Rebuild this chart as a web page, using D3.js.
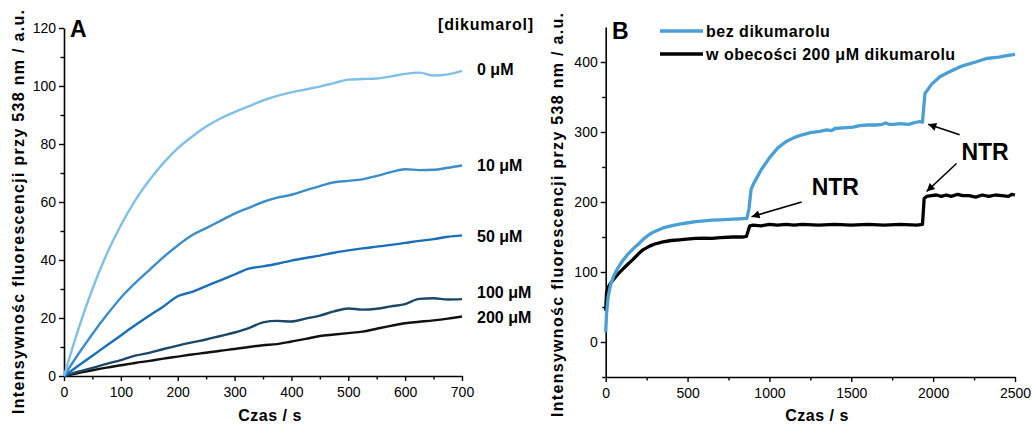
<!DOCTYPE html>
<html><head><meta charset="utf-8">
<script src="https://cdn.jsdelivr.net/npm/d3@7"></script>
<style>
html,body{margin:0;padding:0;background:#fff;}
svg{display:block;font-family:"Liberation Sans",Arial,sans-serif;}
</style></head>
<body><svg id="c" width="1032" height="426"></svg>
<script>
// ---------- Panel A data ----------
const timeA = [0,25,50,75,100,125,150,175,200,225,250,275,300,325,350,375,400,425,450,475,500,525,550,575,600,625,650,675,700];
const dik0   = [0,16,30,42,52,60.5,67.5,73.5,78.5,82.5,86,88.8,91,93,95,96.6,97.8,98.8,99.8,101,102.2,102.4,102.6,103.3,104.2,104.6,103.6,104,105.2];
const dik10  = [0,7.5,14.5,21,27,32,36.5,41,45,48.5,51,53.5,56,58,60,61.5,62.5,64,65.5,66.8,67.3,67.8,69,70.3,71.3,71,71.1,71.8,72.6];
const dik50  = [0,3.5,7,10.5,14,17.5,20.8,24,27.5,29,31,33,35,37,37.8,38.7,39.8,40.7,41.5,42.5,43.3,44,44.6,45.2,45.9,46.6,47.2,48,48.5];
const dik100 = [0,1.5,2.8,4.2,5.5,7,8,9.3,10.5,11.6,12.6,13.8,15,16.5,18.5,19,18.8,19.8,20.8,22.3,23.3,22.9,23.2,24,24.8,26.6,26.8,26.4,26.5];
const dik200 = [0,1,2,2.9,3.7,4.5,5.2,6,6.7,7.4,8,8.7,9.3,10,10.6,11,11.9,12.8,13.8,14.3,14.8,15.3,16.3,17.3,18.2,18.7,19.2,19.8,20.5];
const seriesNamesA = ["0 \u03bcM","10 \u03bcM","50 \u03bcM","100 \u03bcM","200 \u03bcM"];
const xTicksA = [0,100,200,300,400,500,600,700];
const yTicksA = [0,20,40,60,80,100,120];

// ---------- Panel B data ----------
const timeBlue = [0,5,15,30,50,75,100,130,167,200,230,268,300,350,400,450,494,550,600,650,700,777,820,862,875,888,905,950,1000,1050,1100,1150,1200,1250,1308,1350,1380,1400,1450,1512,1550,1600,1650,1690,1710,1730,1760,1800,1850,1880,1919,1935,1950,1990,2041,2100,2163,2200,2260,2326,2400,2450,2500];
const valBlue  = [14,40,65,82,95,106,115,124,133,140,147,154,158,163,166,168.5,170,172,173,174,174.5,175.5,176,176.5,190,218,227,246,263,277,286,292,296,299,301,303,302,305,306,307,309,310,310,311,313,311,311,312,311,313,315,314,355,368,379,386,393,396,400,405,407,409,411];
const timeBlack = [0,5,15,30,50,75,100,130,167,200,230,268,300,350,400,450,494,550,600,650,700,777,840,860,880,900,950,1000,1050,1100,1150,1200,1300,1400,1500,1600,1700,1800,1900,1935,1945,1960,1990,2020,2050,2080,2110,2150,2180,2220,2260,2300,2340,2380,2420,2460,2480,2500];
const valBlack  = [45,70,78,84,90,97,103,110,118,126,132,137,140,143,145,146,147,148,148.5,148,149,150,150,151,166,167,166,168,167,168,167,168,167,168,167,168,167,168,167,168,205,208,209,210,208,210,208,211,209,209,207,210,208,210,209,208,211,210];
const legendB = ["bez dikumarolu","w obecości 200 \u03bcM dikumarolu"];
const xTicksB = [0,500,1000,1500,2000,2500];
const yTicksB = [0,100,200,300,400];
// annotation arrows [fromT, fromV, toT, toV] and labels [t, v]
const arrowsB = [[1197,200,891,179],[2162,296,1970,311],[2143,255,1960,215]];
const ntrLabels = [[1258,210],[2173,260]];

const svg = d3.select("#c");
const defs = svg.append("defs");
defs.append("marker").attr("id","ah").attr("viewBox","0 0 10 10").attr("refX",10).attr("refY",5)
  .attr("markerWidth",11).attr("markerHeight",8).attr("markerUnits","userSpaceOnUse").attr("orient","auto")
  .append("path").attr("d","M0,0 L10,5 L0,10 Z").attr("fill","#000");

function styleAxis(g){
  g.select(".domain").attr("stroke","#000").attr("stroke-width",1.6);
  g.selectAll(".tick line").attr("stroke","#000").attr("stroke-width",1.4);
  g.selectAll(".tick text").attr("fill","#000").attr("font-size","14px").attr("font-family","Liberation Sans, Arial, sans-serif");
}
const fmt = d3.format("d");

// ---------- Panel A ----------
const xA = d3.scaleLinear().domain([0,700]).range([64,462]);
const yA = d3.scaleLinear().domain([0,120]).range([376,28]);
const gA = svg.append("g");
gA.append("g").attr("transform","translate(0,376)")
  .call(d3.axisBottom(xA).tickValues(d3.range(50,700,100)).tickSize(3.5).tickFormat("")).call(styleAxis)
  .select(".domain").remove();
gA.append("g").attr("transform","translate(64,0)")
  .call(d3.axisLeft(yA).tickValues(d3.range(10,120,20)).tickSize(3.5).tickFormat("")).call(styleAxis)
  .select(".domain").remove();
gA.append("g").attr("transform","translate(0,376)")
  .call(d3.axisBottom(xA).tickValues(xTicksA).tickFormat(fmt).tickSize(5).tickSizeOuter(0).tickPadding(6)).call(styleAxis);
gA.append("g").attr("transform","translate(64,0)")
  .call(d3.axisLeft(yA).tickValues(yTicksA).tickFormat(fmt).tickSize(5).tickSizeOuter(0).tickPadding(3)).call(styleAxis);

const colorsA = ["#80c0e8","#3b8ec9","#1a6fb8","#1b4868","#111111"];
const dataA = [dik0,dik10,dik50,dik100,dik200];
const labelDy = [-2,0,1,-7,1];
const lineA = d3.line().x((d,i)=>xA(timeA[i])).y(d=>yA(d)).curve(d3.curveMonotoneX);
dataA.slice().reverse().forEach((s,k)=>{
  const i = dataA.length-1-k;
  gA.append("path").datum(s).attr("d",lineA).attr("fill","none")
    .attr("stroke",colorsA[i]).attr("stroke-width",2.4).attr("stroke-linejoin","round");
});
dataA.forEach((s,i)=>{
  gA.append("text").attr("x",477).attr("y",yA(s[s.length-1])+labelDy[i]).attr("dy","0.36em")
    .attr("font-size","16px").attr("font-weight","bold").text(seriesNamesA[i]);
});
gA.append("text").attr("x",438).attr("y",30).attr("font-size","16px").attr("font-weight","bold")
  .attr("letter-spacing","0.8px").text("[dikumarol]");
gA.append("text").attr("x",70).attr("y",37).attr("font-size","23px").attr("font-weight","bold").text("A");
gA.append("text").attr("x",270).attr("y",421).attr("text-anchor","middle").attr("font-size","16px")
  .attr("font-weight","bold").attr("letter-spacing","0.5px").text("Czas / s");
gA.append("text").attr("transform","translate(24,212) rotate(-90)").attr("text-anchor","middle")
  .attr("font-size","16px").attr("font-weight","bold").attr("textLength",404).attr("lengthAdjust","spacing")
  .text("Intensywnośc fluorescencji przy 538 nm / a.u.");

// ---------- Panel B ----------
const xB = d3.scaleLinear().domain([0,2500]).range([605.7,1015]);
const yB = d3.scaleLinear().domain([-50,450]).range([377,27]);
const gB = svg.append("g");
gB.append("g").attr("transform","translate(0,377)")
  .call(d3.axisBottom(xB).tickValues(d3.range(250,2500,500)).tickSize(3.5).tickFormat("")).call(styleAxis)
  .select(".domain").remove();
gB.append("g").attr("transform","translate(605.7,0)")
  .call(d3.axisLeft(yB).tickValues(d3.range(-50,450,100)).tickSize(3.5).tickFormat("")).call(styleAxis)
  .select(".domain").remove();
gB.append("g").attr("transform","translate(0,377)")
  .call(d3.axisBottom(xB).tickValues(xTicksB).tickFormat(fmt).tickSize(5).tickSizeOuter(0).tickPadding(6)).call(styleAxis);
gB.append("g").attr("transform","translate(605.7,0)")
  .call(d3.axisLeft(yB).tickValues(yTicksB).tickFormat(fmt).tickSize(5).tickSizeOuter(0).tickPadding(3)).call(styleAxis);

const lineBlue = d3.line().x((d,i)=>xB(timeBlue[i])).y(d=>yB(d));
const lineBlack = d3.line().x((d,i)=>xB(timeBlack[i])).y(d=>yB(d));
gB.append("path").datum(valBlack).attr("d",lineBlack).attr("fill","none").attr("stroke","#000")
  .attr("stroke-width",3.3).attr("stroke-linejoin","round");
gB.append("path").datum(valBlue).attr("d",lineBlue).attr("fill","none").attr("stroke","#4a9fd4")
  .attr("stroke-width",3.3).attr("stroke-linejoin","round");

const legColors = ["#4a9fd4","#000"];
legendB.forEach((t,i)=>{
  const y = 31 + i*23;
  gB.append("line").attr("x1",660).attr("x2",703).attr("y1",y).attr("y2",y)
    .attr("stroke",legColors[i]).attr("stroke-width",3.3);
  gB.append("text").attr("x",706).attr("y",y).attr("dy","0.36em").attr("font-size","16px")
    .attr("font-weight","bold").attr("letter-spacing","0.5px").text(t);
});
gB.append("text").attr("x",612).attr("y",39).attr("font-size","23px").attr("font-weight","bold").text("B");

arrowsB.forEach(a=>{
  gB.append("line").attr("x1",xB(a[0])).attr("y1",yB(a[1])).attr("x2",xB(a[2])).attr("y2",yB(a[3]))
    .attr("stroke","#000").attr("stroke-width",1.6).attr("marker-end","url(#ah)");
});
ntrLabels.forEach(l=>{
  gB.append("text").attr("x",xB(l[0])).attr("y",yB(l[1])).attr("font-size","23px").attr("font-weight","bold").text("NTR");
});
gB.append("text").attr("x",817).attr("y",421).attr("text-anchor","middle").attr("font-size","16px")
  .attr("font-weight","bold").attr("letter-spacing","0.5px").text("Czas / s");
gB.append("text").attr("transform","translate(563,215) rotate(-90)").attr("text-anchor","middle")
  .attr("font-size","16px").attr("font-weight","bold").attr("textLength",404).attr("lengthAdjust","spacing")
  .text("Intensywnośc fluorescencji przy 538 nm / a.u.");
</script></body></html>
